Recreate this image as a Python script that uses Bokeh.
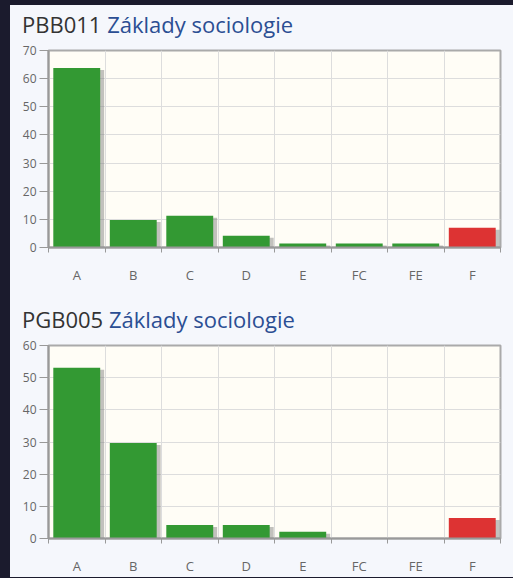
from bokeh.plotting import figure
from bokeh.models import FixedTicker, Div, CustomJS, Range1d
from bokeh.layouts import column
from bokeh.document import Document
from bokeh.embed import file_html
from bokeh.resources import INLINE

categories = ["A", "B", "C", "D", "E", "FC", "FE", "F"]
codes = ["PBB011", "PGB005"]
names = ["Základy sociologie", "Základy sociologie"]
values1 = [63.8, 9.8, 11.3, 4.2, 1.4, 1.4, 1.4, 7.0]
values2 = [53.1, 29.7, 4.2, 4.2, 2.1, 0, 0, 6.4]
y_max = [70, 60]
bar_colors = ["#339933"] * 7 + ["#dd3333"]

FONT = "Open Sans"
PANEL = "#f5f7fc"
W = 503


def title_div(code, name, height, pad_top):
    html = (f'<div style="font-family:\'{FONT}\';font-size:22px;line-height:24px;'
            f'padding:{pad_top}px 0 0 12px;white-space:nowrap">'
            f'<span style="color:#333333">{code}</span> '
            f'<span style="color:#2b4e93">{name}</span></div>')
    return Div(text=html, width=W, height=height, margin=0,
               styles={"background-color": PANEL})


def make_fig(values, ymax, frame_h, border_bottom):
    p = figure(width=W, height=10 + frame_h + border_bottom,
               x_range=Range1d(0, len(categories)), y_range=Range1d(0, ymax),
               output_backend="svg", toolbar_location=None,
               min_border_left=38, min_border_right=13, min_border_top=10,
               min_border_bottom=border_bottom)
    p.background_fill_color = "#fffdf6"
    p.border_fill_color = PANEL
    p.outline_line_color = "#aaaaaa"
    p.outline_line_width = 2

    px_per_unit = frame_h / ymax
    xs = [i + 0.5 for i in range(len(categories))]
    sx = [x + 0.07 for x, v in zip(xs, values) if v > 0]
    st = [max(v - 2.0 / px_per_unit, 0) for v in values if v > 0]
    p.vbar(x=sx, top=st, width=0.83, fill_color="#777777", fill_alpha=0.45,
           line_color=None)
    p.vbar(x=xs, top=values, width=0.83, fill_color=bar_colors, line_color=None)

    xa = p.xaxis[0]
    xa.ticker = FixedTicker(ticks=xs, minor_ticks=list(range(len(categories) + 1)))
    xa.major_label_overrides = {x: c for x, c in zip(xs, categories)}
    xa.major_tick_line_color = None
    xa.minor_tick_out = 5
    xa.minor_tick_in = 0
    xa.minor_tick_line_color = "#999999"
    xa.axis_line_color = "#999999"
    xa.axis_line_width = 2
    xa.major_label_text_color = "#666666"
    xa.major_label_text_font = FONT
    xa.major_label_text_font_size = "13px"
    xa.major_label_standoff = 12

    ya = p.yaxis[0]
    ya.ticker = FixedTicker(ticks=list(range(0, ymax + 1, 10)), minor_ticks=[])
    ya.major_tick_out = 9
    ya.major_tick_in = 0
    ya.major_tick_line_color = "#999999"
    ya.minor_tick_line_color = None
    ya.axis_line_color = "#999999"
    ya.axis_line_width = 2
    ya.major_label_text_color = "#666666"
    ya.major_label_text_font = FONT
    ya.major_label_text_font_size = "12px"
    ya.major_label_standoff = 3

    p.xgrid.ticker = FixedTicker(ticks=list(range(1, len(categories))))
    p.xgrid.grid_line_color = "#dddddd"
    p.ygrid.ticker = FixedTicker(ticks=list(range(10, ymax, 10)))
    p.ygrid.grid_line_color = "#dddddd"
    return p


t1 = title_div(codes[0], names[0], 35, 7)
f1 = make_fig(values1, y_max[0], 197, 40)
sep = Div(text='<div style="margin:6px 0 0 11px;border-top:2px solid #e2e5ec"></div>',
          width=W, height=12, margin=0, styles={"background-color": PANEL})
t2 = title_div(codes[1], names[1], 36, 8)
f2 = make_fig(values2, y_max[1], 196, 36)

layout = column(t1, f1, sep, t2, f2, spacing=0, margin=(5, 0, 0, 10),
                styles={"background-color": PANEL})

doc = Document()
doc.add_root(layout)
doc.js_on_event("document_ready",
                CustomJS(code="document.body.style.backgroundColor='#1b1b2d';"))

open("out.html", "w").write(file_html(layout, INLINE))
